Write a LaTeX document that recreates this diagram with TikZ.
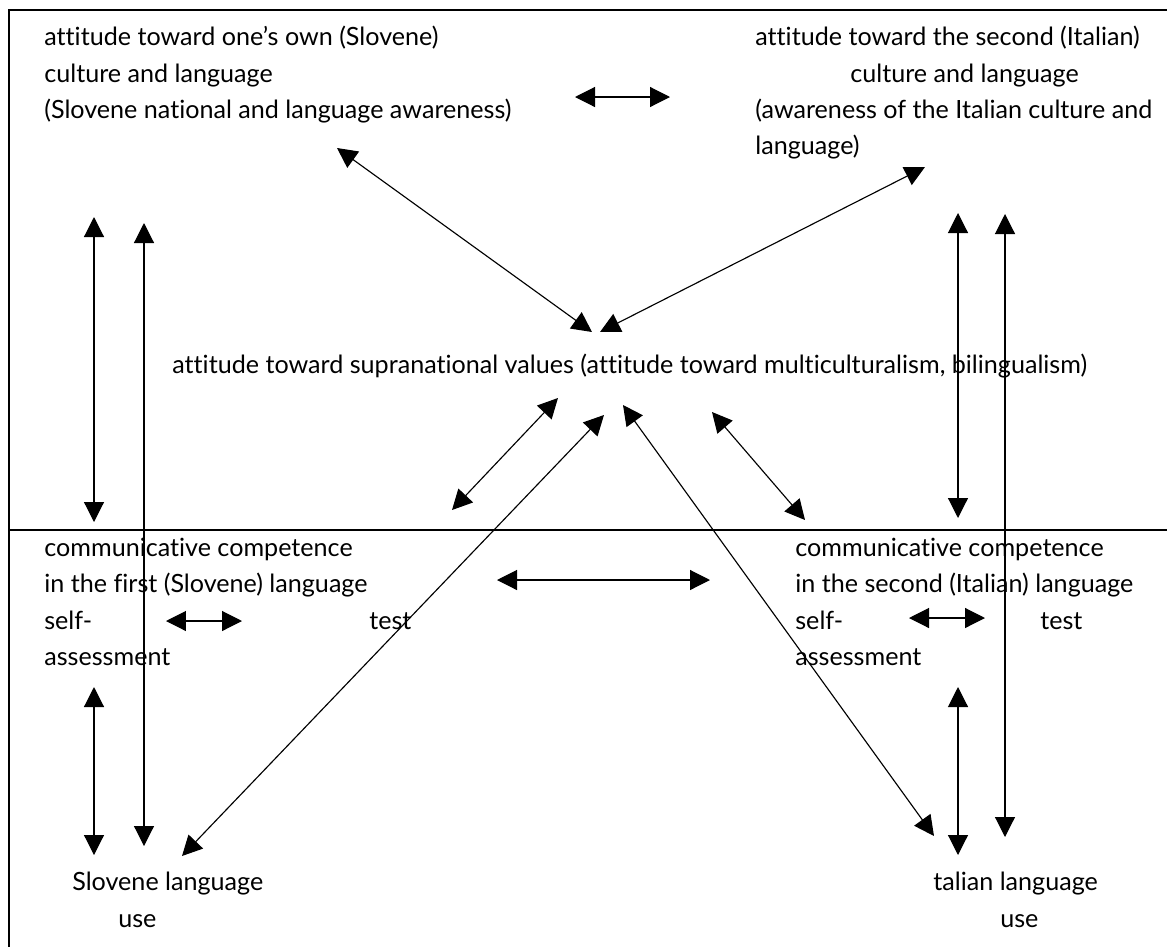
\documentclass[tikz,border=0pt]{standalone}
\usepackage{fontspec}
\setmainfont{Lato}[Ligatures=NoCommon]
\usetikzlibrary{arrows.meta, positioning}

\begin{document}
\begin{tikzpicture}[x=0.02cm, y=-0.02cm,
    every node/.style={font=\fontsize{14.3}{20.6}\selectfont, inner sep=0pt, anchor=north west, align=left},
    link/.style={{Triangle[length=0.4cm, width=0.4cm]}-{Triangle[length=0.4cm, width=0.4cm]}, line width=0.65pt},
    frame/.style={line width=0.8pt}]
    \useasboundingbox (0,0) rectangle (1167,947);

    % Frame
    \draw[frame] (1167,10) -- (9,10) -- (9,947);
    \draw[frame] (9,530) -- (1167,530);

    % Attitudes (upper part)
    \node (sloAtt) at (44,26) {attitude toward one’s own (Slovene)\\ culture and language\\ (Slovene national and language awareness)};
    \node (itaAtt) at (755,26) {attitude toward the second (Italian)\\ \hspace*{1.9cm}culture and language\\ (awareness of the Italian culture and\\ language)};
    \node (supra) at (172,354) {attitude toward supranational values (attitude toward multiculturalism, bilingualism)};

    % Competences (lower part)
    \node (sloCom) at (44,538) {communicative competence\\ in the first (Slovene) language\\ self-\\ assessment};
    \node (sloTest) at (369,612) {test};
    \node (itaCom) at (795,538) {communicative competence\\ in the second (Italian) language\\ self-\\ assessment};
    \node (itaTest) at (1040,612) {test};

    % Language use
    \node (sloUse) at (72,872) {Slovene language\\ \hspace*{0.92cm}use};
    \node (itaUse) at (933,872) {talian language\\ \hspace*{1.34cm}use};

    % Arrow ends
    \coordinate (a1) at (575,97);   \coordinate (b1) at (670,97);
    \coordinate (a2) at (337,148);  \coordinate (b2) at (592,332);
    \coordinate (a3) at (925,167);  \coordinate (b3) at (600,332);
    \coordinate (a4) at (94,217);   \coordinate (b4) at (94,522);
    \coordinate (a5) at (144,223);  \coordinate (b5) at (144,846);
    \coordinate (a6) at (958,213);  \coordinate (b6) at (958,518);
    \coordinate (a7) at (1005,214); \coordinate (b7) at (1005,837);
    \coordinate (a8) at (452,510);  \coordinate (b8) at (558,398);
    \coordinate (a9) at (604,415);  \coordinate (b9) at (182,856);
    \coordinate (a10) at (623,405); \coordinate (b10) at (934,836);
    \coordinate (a11) at (712,412); \coordinate (b11) at (805,520);
    \coordinate (a12) at (497,580); \coordinate (b12) at (710,580);
    \coordinate (a13) at (166,621); \coordinate (b13) at (242,621);
    \coordinate (a14) at (909,618); \coordinate (b14) at (985,618);
    \coordinate (a15) at (94,687);  \coordinate (b15) at (94,855);
    \coordinate (a16) at (958,687); \coordinate (b16) at (958,855);

    % Relations
    \foreach \i in {1,...,16}
        \draw[link] (a\i) -- (b\i);
\end{tikzpicture}
\end{document}
